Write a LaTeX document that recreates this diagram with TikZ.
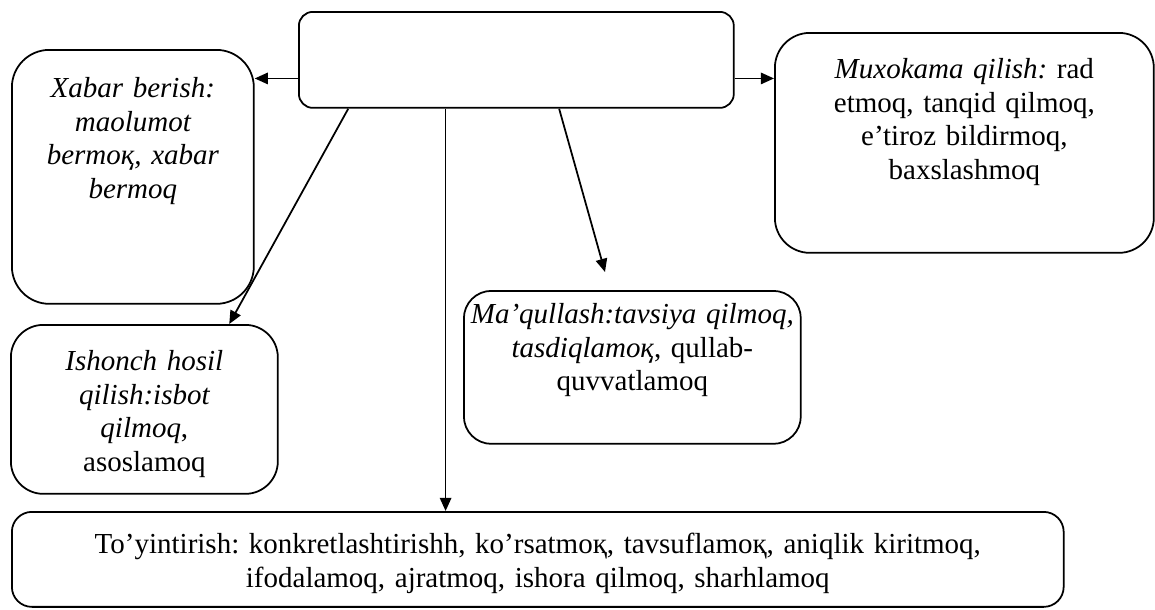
\documentclass[tikz,border=0pt]{standalone}
\usepackage{fontspec}
\setmainfont{Liberation Serif}
\frenchspacing
\usetikzlibrary{positioning}
\usetikzlibrary{calc}
\usetikzlibrary{arrows.meta}

\begin{document}
\begin{tikzpicture}[x=0.02cm, y=-0.02cm,
	box/.style={draw=black, line width=1pt, inner sep=0pt, align=center, anchor=north west, font=\fontsize{16.5}{19}\selectfont},
	arr/.style={line width=1pt, -{Triangle[length=7.5pt, width=6.5pt]}}]
		\useasboundingbox (0,0) rectangle (1155,609);

		%draw boxes
		\node[box, rounded corners=0.28cm, text width=8.7cm, text height=1.92cm, text depth=0cm] (centre) at (298,11) {};
		\node[box, rounded corners=0.75cm, text width=4.84cm, text height=0.96cm, text depth=4.12cm] (xabar) at (11,49)
			{\itshape Xabar berish:\\ maolumot\\ bermoқ, xabar\\ bermoq};
		\node[box, rounded corners=0.7cm, text width=7.58cm, text height=0.92cm, text depth=3.48cm] (muxokama) at (774,32)
			{{\itshape Muxokama qilish:} rad\\ etmoq, tanqid qilmoq,\\ e’tiroz bildirmoq,\\ baxslashmoq};
		\node[box, rounded corners=0.55cm, text width=6.74cm, text height=0.66cm, text depth=2.4cm] (maqullash) at (463,290)
			{{\itshape Ma’qullash:tavsiya qilmoq,\\ tasdiqlamoқ}, qullab-\\ quvvatlamoq};
		\node[box, rounded corners=0.65cm, text width=5.34cm, text height=0.92cm, text depth=2.46cm] (ishonch) at (10,324)
			{{\itshape Ishonch hosil\\ qilish:isbot\\ qilmoq},\\ asoslamoq};
		\node[box, rounded corners=0.4cm, text width=21.04cm, text height=0.84cm, text depth=1.06cm] (toyintirish) at (11,511)
			{To’yintirish: konkretlashtirishh, ko’rsatmoқ, tavsuflamoқ, aniqlik kiritmoq,\\ ifodalamoq, ajratmoq, ishora qilmoq, sharhlamoq};

		%draw arrows
		\coordinate (lout) at ($(centre.north west)!0.69!(centre.south west)$);
		\draw[arr] (lout) -- (lout -| xabar.east);
		\coordinate (rout) at ($(centre.north east)!0.69!(centre.south east)$);
		\draw[arr] (rout) -- (rout -| muxokama.west);
		\draw[arr] ($(centre.south west)!0.115!(centre.south east)$) -- ($(ishonch.north west)!0.816!(ishonch.north east)$);
		\coordinate (vout) at ($(centre.south west)!0.338!(centre.south east)$);
		\draw[arr] (vout) -- (vout |- toyintirish.north);
		\coordinate (maqtip) at (605,272);
		\draw[arr] ($(centre.south west)!0.598!(centre.south east)$) -- (maqtip);
	\end{tikzpicture}
\end{document}
